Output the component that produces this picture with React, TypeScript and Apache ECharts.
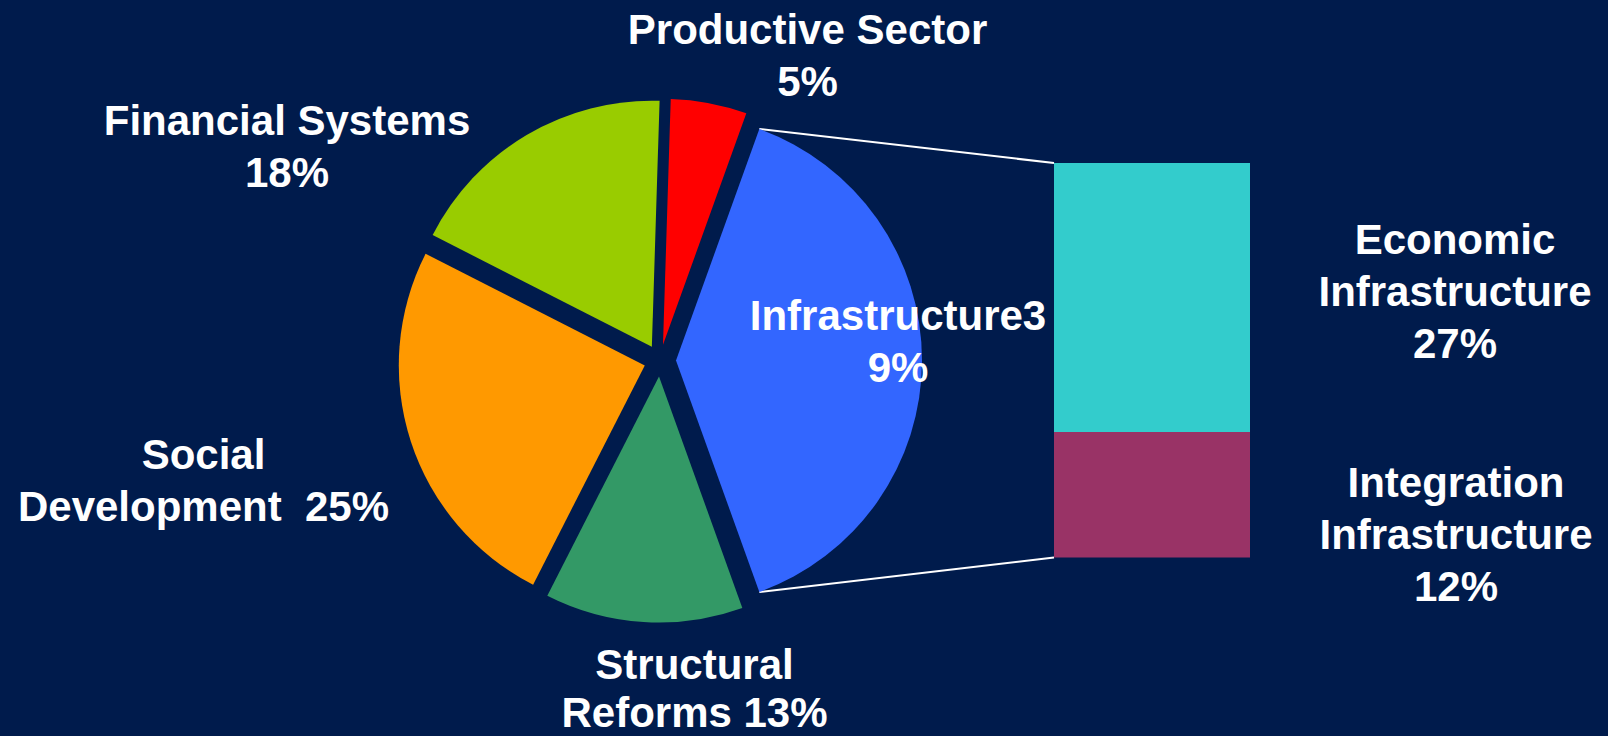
import React, { useEffect, useRef } from "react";
import * as echarts from "echarts";

// ---- Data ----
const pieCategories = [
  "Infrastructure",
  "Structural Reforms",
  "Social Development",
  "Financial Systems",
  "Productive Sector",
];
const pieValues = [39, 13, 25, 18, 5];
const pieColors = ["#3366FF", "#339966", "#FF9900", "#99CC00", "#FF0000"];
const pieLabels = [
  "Infrastructure3\n9%",
  "Structural\nReforms 13%",
  "Social\nDevelopment  25%",
  "Financial Systems\n18%",
  "Productive Sector\n5%",
];

// bar of pie: stacked bottom to top
const barCategories = ["Integration Infrastructure", "Economic Infrastructure"];
const barValues = [12.4, 26.6];
const barColors = ["#993366", "#33CCCC"];
const barLabels = [
  "Integration\nInfrastructure\n12%",
  "Economic\nInfrastructure\n27%",
];

// ---- Layout (positions / styles) ----
const W = 1608;
const H = 736;
const BG = "#001B4C";
const PIE_CX = 660;
const PIE_CY = 360.5;
const PIE_R = 246;
const EXPLODE = 16;
const BAR_LEFT = 1054;
const BAR_TOP = 163;
const BAR_W = 196;
const BAR_H = 394.5;

const pieLabelPos: [number, number][] = [
  [898, 341],
  [694.5, 688],
  [203.5, 480],
  [287, 146],
  [807.5, 55],
];
const pieLabelLineHeights = [52, 48, 52, 52, 52];
const barLabelPos: [number, number][] = [
  [1456, 534],
  [1455, 291.5],
];

const FONT = 'Arial, "Liberation Sans", Helvetica, sans-serif';

export default function App() {
  const ref = useRef<HTMLDivElement | null>(null);

  useEffect(() => {
    if (!ref.current) return;
    const chart = echarts.init(ref.current, null, { renderer: "svg" });

    const pieTotal = pieValues.reduce((a, b) => a + b, 0);
    const barTotal = barValues.reduce((a, b) => a + b, 0);
    const firstAngle = (pieValues[0] / pieTotal) * 360;
    const startAngle = firstAngle / 2; // first slice centred at 3 o'clock

    // connector line geometry from first (combined) slice
    const half = (firstAngle / 2) * (Math.PI / 180);
    const ax = PIE_CX + EXPLODE;
    const ay = PIE_CY;
    const topCorner = [ax + PIE_R * Math.cos(half), ay - PIE_R * Math.sin(half)];
    const botCorner = [ax + PIE_R * Math.cos(half), ay + PIE_R * Math.sin(half)];

    const textStyle = (text: string, x: number, y: number, lh = 52) => ({
      type: "text",
      x,
      y,
      silent: true,
      z: 100,
      style: {
        text,
        fill: "#FFFFFF",
        fontFamily: FONT,
        fontWeight: "bold",
        fontSize: 42,
        lineHeight: lh,
        align: "center",
        verticalAlign: "middle",
      },
    });

    const graphics: any[] = [
      {
        type: "line",
        silent: true,
        shape: { x1: topCorner[0], y1: topCorner[1], x2: BAR_LEFT, y2: BAR_TOP },
        style: { stroke: "#FFFFFF", lineWidth: 2 },
      },
      {
        type: "line",
        silent: true,
        shape: { x1: botCorner[0], y1: botCorner[1], x2: BAR_LEFT, y2: BAR_TOP + BAR_H },
        style: { stroke: "#FFFFFF", lineWidth: 2 },
      },
      ...pieLabels.map((t, i) =>
        textStyle(t, pieLabelPos[i][0], pieLabelPos[i][1], pieLabelLineHeights[i])
      ),
      ...barLabels.map((t, i) => textStyle(t, barLabelPos[i][0], barLabelPos[i][1])),
    ];

    chart.setOption({
      animation: false,
      backgroundColor: BG,
      grid: {
        left: BAR_LEFT,
        top: BAR_TOP,
        width: BAR_W,
        height: BAR_H,
        containLabel: false,
        outerBoundsMode: "none",
      },
      xAxis: { type: "category", data: [""], show: false },
      yAxis: { type: "value", min: 0, max: barTotal, show: false },
      series: [
        {
          type: "pie",
          silent: true,
          center: [PIE_CX, PIE_CY],
          radius: [0, PIE_R],
          startAngle,
          clockwise: true,
          selectedMode: "multiple",
          selectedOffset: EXPLODE,
          avoidLabelOverlap: false,
          label: { show: false },
          labelLine: { show: false },
          emphasis: { disabled: true },
          itemStyle: { borderWidth: 0 },
          data: pieCategories.map((name, i) => ({
            name,
            value: pieValues[i],
            selected: true,
            itemStyle: { color: pieColors[i], borderWidth: 0 },
            select: { itemStyle: { color: pieColors[i], borderWidth: 0 } },
          })),
        },
        ...barCategories.map((name, i) => ({
          type: "bar",
          name,
          stack: "infra",
          silent: true,
          barWidth: "100%",
          barCategoryGap: 0,
          emphasis: { disabled: true },
          itemStyle: { color: barColors[i], borderWidth: 0 },
          label: { show: false },
          data: [barValues[i]],
        })),
      ],
      graphic: graphics,
    });

    return () => {
      chart.dispose();
    };
  }, []);

  return (
    <div
      ref={ref}
      style={{ position: "absolute", left: 0, top: 0, width: W, height: H }}
    />
  );
}
